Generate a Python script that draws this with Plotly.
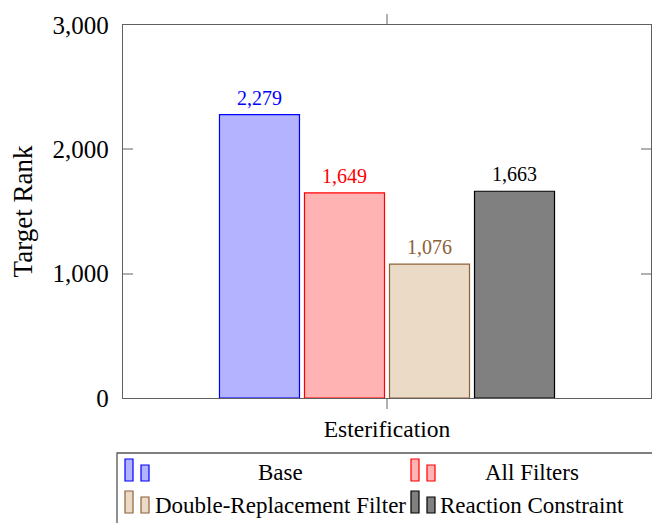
import plotly.graph_objects as go

# ---- data ----
categories = ["Esterification"]
series_names = ["Base", "All Filters", "Double-Replacement Filter", "Reaction Constraint"]
series_values = [2279, 1649, 1076, 1663]
y_ticks = [0, 1000, 2000, 3000]

# ---- styles ----
line_colors = ["#0000ff", "#ff0000", "#8c6239", "#000000"]
fill_colors = ["#b3b3ff", "#ffb3b3", "#ebdac6", "#808080"]
label_colors = ["#0000ff", "#ff0000", "#8c6239", "#000000"]
FONT = "Liberation Serif, serif"

W, H = 652, 523
ML, MR, MT, MB = 123, 1, 25, 125
PW, PH = W - ML - MR, H - MT - MB
BARGAP = 0.356
GROUPGAP = 0.0588

fig = go.Figure()
for name, val, lc, fc in zip(series_names, series_values, line_colors, fill_colors):
    fig.add_trace(go.Bar(
        x=categories, y=[val], name=name,
        marker=dict(color=fc, line=dict(color=lc, width=1.2)),
        showlegend=False,
    ))

# value labels above each bar
slot_px = PW * (1 - BARGAP) / len(series_values)
for i, (val, col) in enumerate(zip(series_values, label_colors)):
    fig.add_annotation(
        x=categories[0], y=val, xref="x", yref="y",
        text=f"{val:,}", showarrow=False,
        xshift=(i - (len(series_values) - 1) / 2) * slot_px,
        yshift=17, yanchor="middle",
        font=dict(family=FONT, size=20, color=col),
    )

# legend: framed box, two columns, two icons per entry
def px_x(p):
    return (p - ML) / PW

def px_y(p):
    return (H - MB - p) / PH

fig.add_shape(type="rect", xref="paper", yref="paper",
              x0=px_x(117), x1=px_x(700), y0=px_y(453), y1=px_y(560),
              line=dict(color="#555555", width=1.3), fillcolor="rgba(0,0,0,0)")

col_left = [125, 411]
col_text = [280, 532]
row_bottom = [481, 513]
for i, (name, lc, fc) in enumerate(zip(series_names, line_colors, fill_colors)):
    r, c = divmod(i, 2)
    x0 = col_left[c]
    yb = row_bottom[r]
    for dx, h in [(0, 22), (16, 16)]:
        fig.add_shape(type="rect", xref="paper", yref="paper",
                      x0=px_x(x0 + dx), x1=px_x(x0 + dx + 8),
                      y0=px_y(yb), y1=px_y(yb - h),
                      line=dict(color=lc, width=1.2), fillcolor=fc)
    fig.add_annotation(
        xref="paper", yref="paper", x=px_x(col_text[c]), y=px_y(yb - 8),
        text=name, showarrow=False, xanchor="center", yanchor="middle",
        font=dict(family=FONT, size=23, color="#000000"),
    )

fig.update_layout(
    width=W, height=H,
    margin=dict(l=ML, r=MR, t=MT, b=MB),
    paper_bgcolor="white", plot_bgcolor="white",
    barmode="group", bargap=BARGAP, bargroupgap=GROUPGAP,
    font=dict(family=FONT, color="#000000"),
)
fig.update_xaxes(
    type="category", range=[-0.5, 0.5],
    showline=True, linecolor="#606060", linewidth=1.3, mirror="ticks",
    ticks="outside", ticklen=10, tickcolor="#b0b0b0", tickwidth=1.5,
    tickfont=dict(family=FONT, size=23.5, color="#000000"),
    showgrid=False, zeroline=False,
)
fig.update_yaxes(
    range=[0, 3000], tickvals=y_ticks, tickformat=",",
    showline=True, linecolor="#606060", linewidth=1.3, mirror="ticks",
    ticks="inside", ticklen=10, tickcolor="#b0b0b0", tickwidth=1.5,
    tickfont=dict(family=FONT, size=25, color="#000000"),
    ticklabelstandoff=8,
    title=dict(text="Target Rank", font=dict(family=FONT, size=27, color="#000000"), standoff=12),
    showgrid=False, zeroline=False,
)

fig.write_html("out.html")
